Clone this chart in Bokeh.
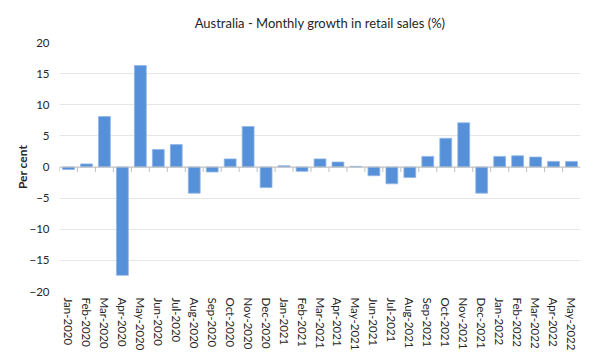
from bokeh.plotting import figure
from bokeh.models import ColumnDataSource, FactorRange, Range1d, Span
from bokeh.transform import dodge
from bokeh.embed import file_html
from bokeh.resources import INLINE

months = ["Jan-2020", "Feb-2020", "Mar-2020", "Apr-2020", "May-2020", "Jun-2020",
          "Jul-2020", "Aug-2020", "Sep-2020", "Oct-2020", "Nov-2020", "Dec-2020",
          "Jan-2021", "Feb-2021", "Mar-2021", "Apr-2021", "May-2021", "Jun-2021",
          "Jul-2021", "Aug-2021", "Sep-2021", "Oct-2021", "Nov-2021", "Dec-2021",
          "Jan-2022", "Feb-2022", "Mar-2022", "Apr-2022", "May-2022"]
growth = [-0.4, 0.5, 8.1, -17.4, 16.3, 2.8,
          3.6, -4.2, -0.8, 1.3, 6.5, -3.3,
          0.2, -0.7, 1.3, 0.8, 0.1, -1.4,
          -2.7, -1.7, 1.7, 4.6, 7.1, -4.2,
          1.7, 1.8, 1.6, 0.9, 0.9]
y_ticks = [-20, -15, -10, -5, 0, 5, 10, 15, 20]

FONT = "Lato"
TXT = "#262626"

src = ColumnDataSource(dict(month=months, growth=growth))

p = figure(width=574, height=353, x_range=FactorRange(*months, range_padding=0),
           y_range=Range1d(-20, 20), output_backend="svg", toolbar_location=None,
           title="Australia - Monthly growth in retail sales (%)",
           min_border_right=6, margin=(0, 0, 0, 12))

p.vbar(x="month", top="growth", bottom=0, width=0.66, source=src,
       fill_color="#5590d8", line_color="#8fb6e8", line_width=0.8)

# zero line with category boundary ticks
p.add_layout(Span(location=0, dimension="width", line_color="#bfbfbf", line_width=1))
p.segment(x0=dodge("month", -0.5, range=p.x_range), y0=0,
          x1=dodge("month", -0.5, range=p.x_range), y1=-0.8,
          source=src, line_color="#bfbfbf", line_width=1)

p.title.align = "center"
p.title.text_font = FONT
p.title.text_font_size = "13px"
p.title.text_font_style = "normal"
p.title.text_color = TXT
p.title.offset = 0
p.title.standoff = 24

p.outline_line_color = None
p.xgrid.grid_line_color = None
p.ygrid.grid_line_color = "#e6e6e6"
p.ygrid.grid_line_width = 1
p.yaxis.ticker = y_ticks

p.yaxis.axis_line_color = None
p.yaxis.major_tick_line_color = None
p.yaxis.minor_tick_line_color = None
p.yaxis.major_tick_out = 0
p.yaxis.major_tick_in = 0
p.yaxis.major_label_standoff = 10
p.yaxis.major_label_text_font = FONT
p.yaxis.major_label_text_font_size = "11.5px"
p.yaxis.major_label_text_color = TXT
p.yaxis.axis_label = "Per cent"
p.yaxis.axis_label_text_font = FONT
p.yaxis.axis_label_text_font_size = "12px"
p.yaxis.axis_label_text_font_style = "bold"
p.yaxis.axis_label_text_color = TXT
p.yaxis.axis_label_standoff = -4

p.xaxis.axis_line_color = None
p.xaxis.major_tick_line_color = None
p.xaxis.major_tick_out = 0
p.xaxis.major_tick_in = 0
p.xaxis.major_label_orientation = "vertical"
p.xaxis.major_label_standoff = 6
p.xaxis.major_label_text_font = FONT
p.xaxis.major_label_text_font_size = "11.5px"
p.xaxis.major_label_text_color = TXT

open("out.html", "w").write(file_html(p, INLINE))
